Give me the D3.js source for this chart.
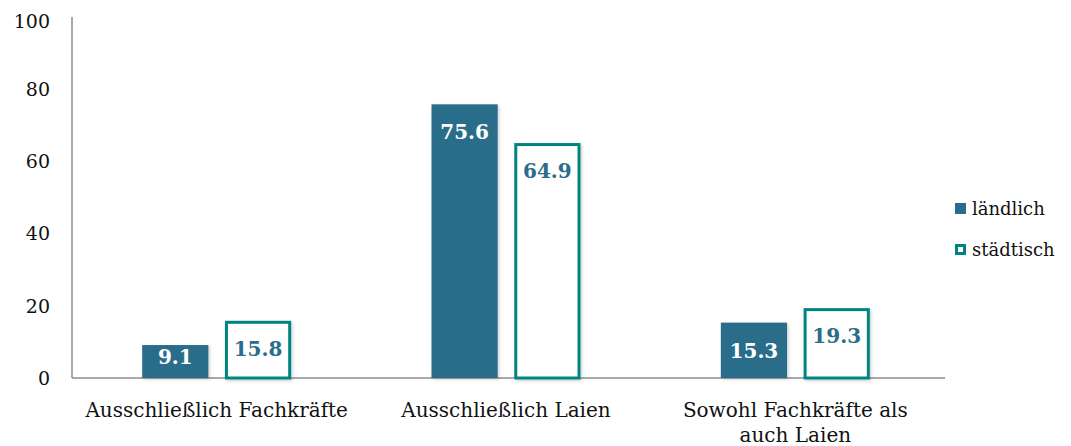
<!DOCTYPE html>
<html>
<head>
<meta charset="utf-8">
<script src="https://cdn.jsdelivr.net/npm/d3@7"></script>
<style>
  html, body { margin: 0; padding: 0; background: #fff; }
  svg { display: block; font-family: "DejaVu Serif", "Liberation Serif", serif; }
</style>
</head>
<body>
<svg id="chart" width="1071" height="446"></svg>
<script>
// Anteil der Betreuung nach Art des Personals (in %)
const categories = [
  ["Ausschließlich Fachkräfte"],
  ["Ausschließlich Laien"],
  ["Sowohl Fachkräfte als", "auch Laien"]
];
const seriesNames = ["ländlich", "städtisch"];
const laendlich = [9.1, 75.6, 15.3];
const staedtisch = [15.8, 64.9, 19.3];
const yTicks = [0, 20, 40, 60, 80, 100];

const colFill = "#2a6d8b";
const colLine = "#00847f";
const colAxis = "#8c8c8c";

const svg = d3.select("#chart");
const margin = { left: 72, right: 131, top: 16, bottom: 68 };
const W = 1071, H = 446;

const x0 = d3.scaleBand()
  .domain(d3.range(categories.length))
  .range([margin.left, W - margin.right])
  .paddingInner(0)
  .paddingOuter(0);

const x1 = d3.scaleBand()
  .domain(seriesNames)
  .range([x0.bandwidth() / 2 - 74.5, x0.bandwidth() / 2 + 74.5])
  .paddingInner(0.2);

const y = d3.scaleLinear().domain([0, 100]).range([H - margin.bottom, margin.top]);

// drop shadow for bars
const defs = svg.append("defs");
const f = defs.append("filter").attr("id", "shadow")
  .attr("x", "-10%").attr("y", "-10%").attr("width", "130%").attr("height", "130%");
f.append("feDropShadow").attr("dx", 1.5).attr("dy", 1.5).attr("stdDeviation", 1.5)
  .attr("flood-color", "#000").attr("flood-opacity", 0.18);

// y axis
const yAxis = d3.axisLeft(y).tickValues(yTicks).tickSize(0).tickPadding(22).tickFormat(d3.format("d"));
const gy = svg.append("g").attr("transform", `translate(${margin.left},0)`).call(yAxis);
gy.select(".domain").attr("stroke", colAxis).attr("stroke-width", 1.5)
  .attr("d", `M0,${y(100) + 1}V${y(0)}`);
gy.selectAll("text").attr("font-size", 19).attr("fill", "#111").attr("font-family", "DejaVu Serif, serif")
  .attr("dy", (d, i) => d === 100 ? "0.6em" : "0.35em");

// x baseline
const xAxis = d3.axisBottom(x0).tickSize(0).tickFormat("");
const gx = svg.append("g").attr("transform", `translate(0,${y(0)})`).call(xAxis);
gx.select(".domain").attr("stroke", colAxis).attr("stroke-width", 1.5)
  .attr("d", `M${margin.left},0H${W - margin.right + 5}`);

// category labels
const catG = svg.append("g");
categories.forEach((lines, i) => {
  const t = catG.append("text")
    .attr("x", x0(i) + x0.bandwidth() / 2)
    .attr("y", y(0) + 39)
    .attr("text-anchor", "middle")
    .attr("font-size", 20)
    .attr("fill", "#111");
  lines.forEach((l, j) => {
    t.append("tspan").attr("x", x0(i) + x0.bandwidth() / 2).attr("dy", j === 0 ? 0 : 25).text(l);
  });
});

const data = [];
categories.forEach((c, i) => {
  data.push({ i, s: "ländlich", v: laendlich[i] });
  data.push({ i, s: "städtisch", v: staedtisch[i] });
});

const bars = svg.append("g");
bars.selectAll("rect").data(data).join("rect")
  .attr("x", d => x0(d.i) + x1(d.s) + (d.s === "städtisch" ? 1.5 : 0))
  .attr("y", d => y(d.v) + (d.s === "städtisch" ? 1.5 : 0))
  .attr("width", d => x1.bandwidth() - (d.s === "städtisch" ? 3 : 0))
  .attr("height", d => y(0) - y(d.v) - (d.s === "städtisch" ? 1.5 : 0))
  .attr("fill", d => d.s === "ländlich" ? colFill : "#fff")
  .attr("stroke", d => d.s === "ländlich" ? "none" : colLine)
  .attr("stroke-width", 3)
  .attr("filter", "url(#shadow)");

// value labels
bars.selectAll("text").data(data).join("text")
  .attr("x", d => x0(d.i) + x1(d.s) + x1.bandwidth() / 2)
  .attr("y", d => Math.min(y(d.v) + 28, y(0) - 21))
  .attr("dy", "0.35em")
  .attr("text-anchor", "middle")
  .attr("font-size", 20)
  .attr("font-weight", "bold")
  .attr("fill", d => d.s === "ländlich" ? "#fff" : colFill)
  .text(d => d.v.toFixed(1));

// legend
const leg = svg.append("g").attr("transform", "translate(955,203)");
seriesNames.forEach((s, k) => {
  const g = leg.append("g").attr("transform", `translate(0,${k * 41})`);
  if (k === 0) {
    g.append("rect").attr("width", 11).attr("height", 11).attr("fill", colFill);
  } else {
    g.append("rect").attr("x", 1.5).attr("y", 1.5).attr("width", 8).attr("height", 8)
      .attr("fill", "#fff").attr("stroke", colLine).attr("stroke-width", 3);
  }
  g.append("text").attr("x", 17).attr("y", 6).attr("dy", "0.35em")
    .attr("font-size", 18).attr("fill", "#111").text(s);
});
</script>
</body>
</html>
